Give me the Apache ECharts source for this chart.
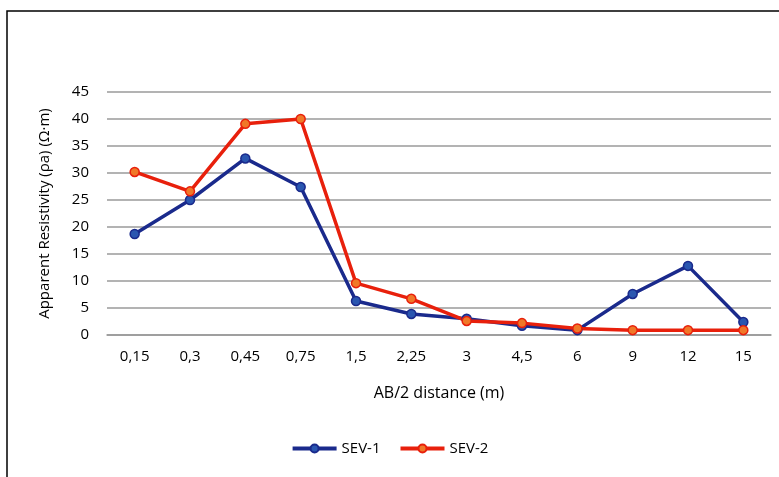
<!DOCTYPE html>
<html>
<head>
<meta charset="utf-8">
<script src="https://cdn.jsdelivr.net/npm/echarts@6/dist/echarts.min.js"></script>
<style>
    html, body { margin: 0; padding: 0; background: #fff; }
    #chart { width: 779px; height: 477px; }
</style>
</head>
<body>
<div id="chart"></div>
<script>
    var categories = ['0,15', '0,3', '0,45', '0,75', '1,5', '2,25', '3', '4,5', '6', '9', '12', '15'];
    var sev1 = [18.7, 25.0, 32.7, 27.4, 6.3, 3.9, 3.0, 1.7, 0.9, 7.6, 12.8, 2.4];
    var sev2 = [30.2, 26.6, 39.1, 40.0, 9.6, 6.7, 2.6, 2.2, 1.2, 0.9, 0.9, 0.9];

    var font = 'Open Sans';
    var chart = echarts.init(document.getElementById('chart'));
    var option = {
        animation: false,
        backgroundColor: '#fff',
        graphic: [{
            type: 'polyline',
            shape: { points: [[7, 477], [7, 11], [779, 11]] },
            style: { stroke: '#000', lineWidth: 1.5, fill: null }
        }],
        grid: { left: 107, right: 8, top: 92, bottom: 142 },
        legend: {
            bottom: 16,
            left: 'center',
            itemWidth: 44,
            itemHeight: 10,
            itemGap: 18,
            lineStyle: { width: 4 },
            textStyle: { fontFamily: font, fontSize: 15, fontWeight: 500, color: '#000' },
            data: ['SEV-1', 'SEV-2']
        },
        xAxis: {
            type: 'category',
            data: categories,
            name: 'AB/2 distance (m)',
            nameLocation: 'middle',
            nameGap: 50,
            nameTextStyle: { fontFamily: font, fontSize: 16, fontWeight: 500, color: '#000' },
            axisLine: { lineStyle: { color: '#999', width: 1.5 } },
            axisTick: { show: false },
            axisLabel: { fontFamily: font, fontSize: 15, fontWeight: 500, color: '#000', margin: 14 }
        },
        yAxis: {
            type: 'value',
            min: 0,
            max: 45,
            interval: 5,
            name: 'Apparent Resistivity (ρa) (Ω·m)',
            nameLocation: 'middle',
            nameGap: 55,
            nameTextStyle: { fontFamily: font, fontSize: 15, fontWeight: 500, color: '#000' },
            axisLine: { show: false },
            axisTick: { show: false },
            axisLabel: { fontFamily: font, fontSize: 15, fontWeight: 500, color: '#000', margin: 18 },
            splitLine: { lineStyle: { color: '#9a9a9a', width: 1.5 } }
        },
        series: [
            {
                name: 'SEV-1',
                type: 'line',
                data: sev1,
                symbol: 'circle',
                symbolSize: 9,
                lineStyle: { color: '#1a2a8c', width: 3.5 },
                itemStyle: { color: '#2a56b0', borderColor: '#1a2a8c', borderWidth: 1.5 }
            },
            {
                name: 'SEV-2',
                type: 'line',
                data: sev2,
                symbol: 'circle',
                symbolSize: 9,
                lineStyle: { color: '#e8200c', width: 3.5 },
                itemStyle: { color: '#f07828', borderColor: '#e8200c', borderWidth: 1.5 }
            }
        ]
    };
    chart.setOption(option);
</script>
</body>
</html>
